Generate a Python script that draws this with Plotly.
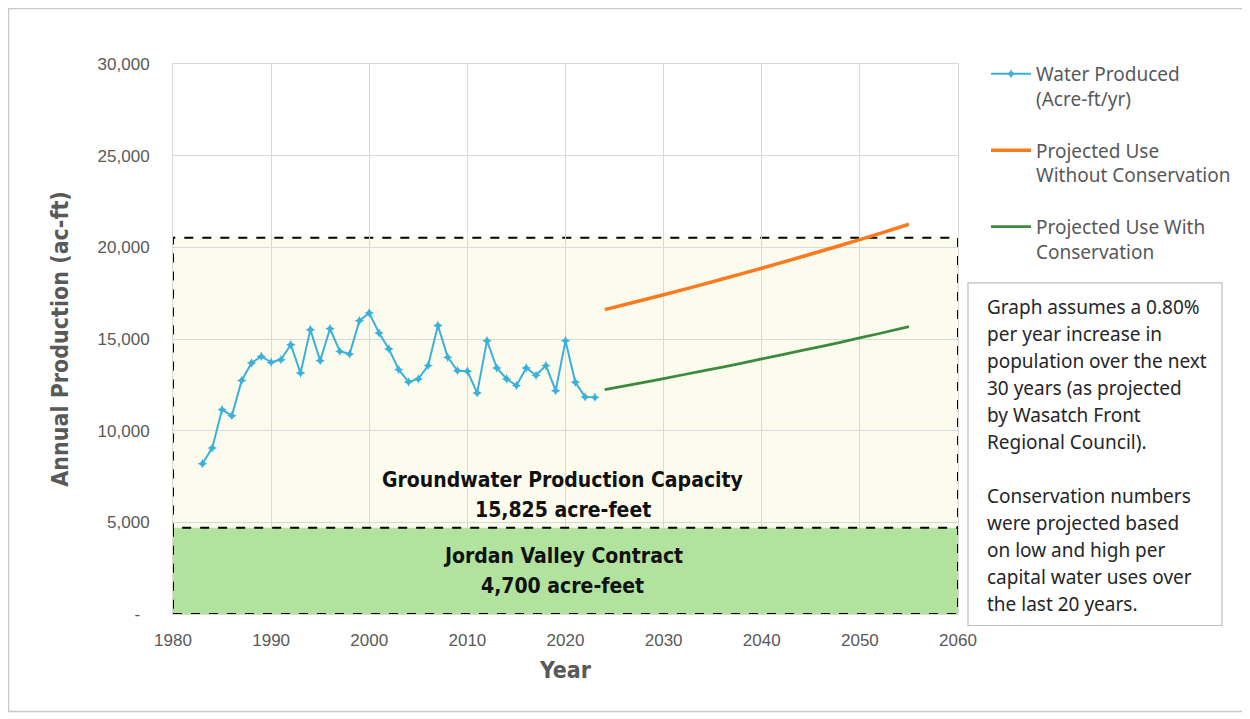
import plotly.graph_objects as go

# ---------------- data ----------------
hist_years = [1983, 1984, 1985, 1986, 1987, 1988, 1989, 1990, 1991, 1992,
              1993, 1994, 1995, 1996, 1997, 1998, 1999, 2000, 2001, 2002,
              2003, 2004, 2005, 2006, 2007, 2008, 2009, 2010, 2011, 2012,
              2013, 2014, 2015, 2016, 2017, 2018, 2019, 2020, 2021, 2022, 2023]
water_produced = [8200, 9060, 11150, 10820, 12740, 13690, 14050, 13730, 13870, 14690,
                  13150, 15510, 13820, 15560, 14330, 14180, 16000, 16420, 15330, 14460,
                  13330, 12660, 12820, 13550, 15740, 14000, 13270, 13240, 12060, 14910,
                  13420, 12820, 12460, 13420, 13020, 13550, 12180, 14910, 12640, 11840, 11820]

proj_years = [2024, 2028, 2032, 2036, 2040, 2044, 2048, 2052, 2055]
proj_without = [16600, 17140, 17690, 18270, 18860, 19470, 20100, 20750, 21260]
proj_with = [12240, 12640, 13050, 13470, 13910, 14360, 14820, 15300, 15680]

contract_af = 4700
groundwater_af = 15825

x_ticks = [1980, 1990, 2000, 2010, 2020, 2030, 2040, 2050, 2060]
y_ticks = [0, 5000, 10000, 15000, 20000, 25000, 30000]
y_tick_text = ["-  ", "5,000", "10,000", "15,000", "20,000", "25,000", "30,000"]

series_names = ["Water Produced<br>(Acre-ft/yr)",
                "Projected Use<br>Without Conservation",
                "Projected Use With<br>Conservation"]

capacity_lines = ["Groundwater Production Capacity", "15,825 acre-feet"]
contract_lines = ["Jordan Valley Contract", "4,700 acre-feet"]

note_lines = ["Graph assumes a 0.80%", "per year increase in", "population over the next",
              "30 years (as projected", "by Wasatch Front", "Regional Council).", "",
              "Conservation numbers", "were projected based", "on low and high per",
              "capital water uses over", "the last 20 years."]

# ---------------- layout geometry ----------------
# page body has an 8px margin; positions below are in window pixels
OFF = 8
W, H = 1250 - OFF, 719 - OFF
PL, PT, PR, PB = 173, 64, 958, 614.5   # plot area in window pixels
PW = PR - PL
PH = PB - PT
ML, MT = PL - OFF, PT - OFF
MR = W - ML - PW
MB = H - MT - PH


def px2x(px):
    return (px - PL) / PW


def px2y(py):
    return (PB - py) / PH


def px2val(py):
    return (PB - py) / PH * 30000


NARROW = "Liberation Sans Narrow, Arial Narrow, DejaVu Sans Condensed, Roboto Condensed, Arial, sans-serif"
BODY = "Noto Sans, Open Sans, Arial, sans-serif"
TICKF = "Liberation Sans, Arial, sans-serif"
GRAY = "#595959"

fig = go.Figure()

fig.add_trace(go.Scatter(
    x=hist_years, y=water_produced, mode="lines+markers", name=series_names[0],
    line=dict(color="#3BB0D8", width=2),
    marker=dict(symbol="star-diamond", size=7, color="#3BB0D8"),
    legendgroup="a"))
fig.add_trace(go.Scatter(
    x=proj_years, y=proj_without, mode="lines", name=series_names[1],
    line=dict(color="#FA7A22", width=3.5, shape="spline", smoothing=0.6),
    legendgroup="b"))
fig.add_trace(go.Scatter(
    x=proj_years, y=proj_with, mode="lines", name=series_names[2],
    line=dict(color="#3C8A3C", width=2.8, shape="spline", smoothing=0.6),
    legendgroup="c"))

# capacity boxes
fig.add_shape(type="rect", xref="x", yref="y", x0=x_ticks[0], x1=x_ticks[-1],
              y0=0, y1=contract_af + groundwater_af,
              fillcolor="#FCFCEE", line=dict(color="black", width=2, dash="dash"),
              layer="below")
fig.add_shape(type="rect", xref="x", yref="y", x0=x_ticks[0], x1=x_ticks[-1],
              y0=0, y1=contract_af,
              fillcolor="#B1E29E", line=dict(color="black", width=2, dash="dash"),
              layer="between")

# box labels
mid_year = (x_ticks[0] + x_ticks[-1]) / 2 - 0.3
for text, py in zip(capacity_lines + contract_lines, [480, 510, 556, 586]):
    fig.add_annotation(x=mid_year, y=px2val(py), xref="x", yref="y",
                       text="<b>" + text + "</b>", showarrow=False,
                       font=dict(family=NARROW, size=21, color="#111111"))

# note box
fig.add_shape(type="rect", xref="paper", yref="paper",
              x0=px2x(968), x1=px2x(1222), y0=px2y(626), y1=px2y(283),
              fillcolor="white", line=dict(color="#BFBFBF", width=1.2), layer="above")
for i, line_text in enumerate(note_lines):
    if not line_text:
        continue
    fig.add_annotation(x=px2x(985), y=px2y(307 + 27 * i), xref="paper", yref="paper",
                       xanchor="left", yanchor="middle", text=line_text, showarrow=False,
                       font=dict(family=BODY, size=19, color="#262626"))

# outer frame
fig.add_shape(type="rect", xref="paper", yref="paper",
              x0=px2x(OFF + 0.5), x1=px2x(1246), y0=px2y(712), y1=px2y(OFF + 0.5),
              line=dict(color="#C8C8C8", width=1.5), layer="above")

fig.update_layout(
    width=W, height=H,
    margin=dict(l=ML, r=MR, t=MT, b=MB, autoexpand=False),
    paper_bgcolor="white", plot_bgcolor="white",
    showlegend=True,
    legend=dict(x=px2x(986), y=px2y(55), xanchor="left", yanchor="top",
                font=dict(family=BODY, size=19, color=GRAY),
                tracegroupgap=24, valign="top", bgcolor="rgba(0,0,0,0)",
                itemwidth=40),
    xaxis=dict(range=[x_ticks[0], x_ticks[-1]], tickvals=x_ticks,
               tickfont=dict(family=TICKF, size=17, color=GRAY),
               showgrid=True, gridcolor="#D9D9D9", gridwidth=1.3,
               zeroline=False, showline=True, linecolor="#D9D9D9", mirror=True,
               ticks="", ticklabelstandoff=11,
               title=dict(text="<b>Year</b>", standoff=12,
                          font=dict(family=NARROW, size=23, color=GRAY))),
    yaxis=dict(range=[0, 30000], tickvals=y_ticks, ticktext=y_tick_text,
               tickfont=dict(family=TICKF, size=17, color=GRAY),
               showgrid=True, gridcolor="#D9D9D9", gridwidth=1.3,
               zeroline=False, showline=True, linecolor="#D9D9D9", mirror=True,
               ticks="", ticklabelstandoff=19,
               title=dict(text="<b>Annual Production (ac-ft)</b>", standoff=22,
                          font=dict(family=NARROW, size=23, color=GRAY))),
)

fig.write_html("out.html")
